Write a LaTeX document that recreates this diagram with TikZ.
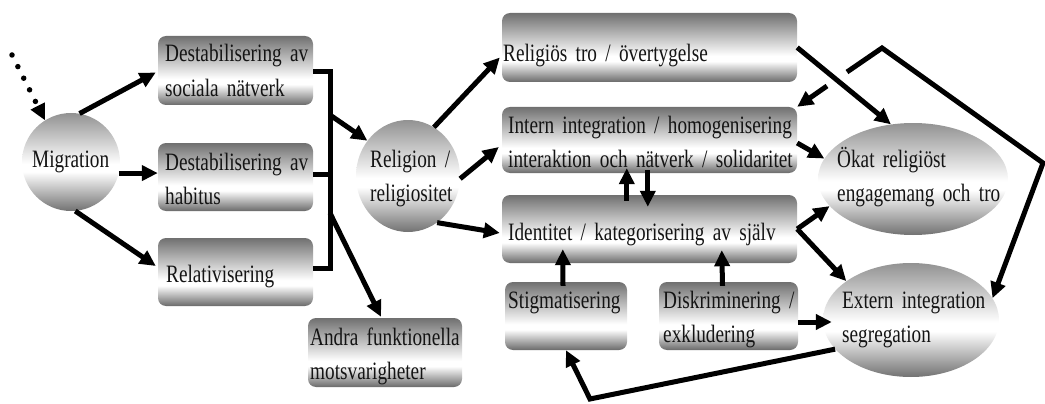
\documentclass[tikz,border=0pt]{standalone}
\usepackage{fontspec}
\setmainfont[FakeStretch=0.77]{Liberation Serif}
\usetikzlibrary{shapes.geometric,arrows.meta,calc}

\definecolor{bxtop}{RGB}{112,112,112}
\definecolor{bxbot}{RGB}{106,106,106}
\definecolor{eltop}{RGB}{146,146,146}
\definecolor{elbot}{RGB}{114,114,114}
\definecolor{ink}{RGB}{20,20,20}

% grey - white - grey bands, light band below the middle
\pgfdeclareverticalshading{boxshade}{100bp}{color(0bp)=(bxbot); color(25bp)=(bxbot);
  color(40bp)=(white); color(44bp)=(white); color(75bp)=(bxtop); color(100bp)=(bxtop)}
\pgfdeclareverticalshading{ellshade}{100bp}{color(0bp)=(elbot); color(25bp)=(elbot);
  color(45bp)=(white); color(49bp)=(white); color(75bp)=(eltop); color(100bp)=(eltop)}

\begin{document}
\begin{tikzpicture}[x=1pt,y=-1pt,
  box/.style={rectangle, rounded corners=8pt, shading=boxshade, draw=none, inner sep=0pt},
  blob/.style={ellipse, shading=ellshade, draw=none, inner sep=0pt},
  txt/.style={anchor=base west, inner sep=0pt, text width=300pt, align=left,
    text=ink, font=\fontsize{25}{34.5}\selectfont},
  conn/.style={line width=5pt, draw=black},
  arrow/.style={conn, -{Triangle[length=16pt,width=15pt]}}
]
\useasboundingbox (0,0) rectangle (1045,404);

% ---- shapes ----
\node[blob, minimum width=98pt, minimum height=98pt] (mig) at (71,162) {};
\node[box, minimum width=155pt, minimum height=69pt] (dsn) at (235.5,70.5) {};
\node[box, minimum width=155pt, minimum height=68pt] (dh) at (235.5,177) {};
\node[box, minimum width=155pt, minimum height=68pt] (rel) at (235.5,272) {};
\node[box, minimum width=154pt, minimum height=69pt] (andra) at (385,352.5) {};
\node[blob, minimum width=104pt, minimum height=112pt] (religion) at (408,176) {};
\node[box, minimum width=295pt, minimum height=69pt] (relig) at (649.5,47.5) {};
\node[box, minimum width=295pt, minimum height=66pt] (intern) at (649.5,140) {};
\node[box, minimum width=295pt, minimum height=68pt] (ident) at (649.5,229) {};
\node[box, minimum width=122pt, minimum height=68pt] (stig) at (566,316) {};
\node[box, minimum width=139pt, minimum height=68pt] (disk) at (728.5,316) {};
\node[blob, minimum width=190pt, minimum height=112pt] (okat) at (913,179) {};
\node[blob, minimum width=176pt, minimum height=114pt] (extern) at (911,320) {};

% ---- texts ----
\node[txt] (mig-t) at (32,167) {Migration};
\node[txt] (dsn-t) at (165,62) {Destabilisering av\\sociala nätverk};
\node[txt] (dh-t) at (165,170) {Destabilisering av\\habitus};
\node[txt] (rel-t) at (166,282) {Relativisering};
\node[txt] (andra-t) at (310,345) {Andra funktionella\\motsvarigheter};
\node[txt] (religion-t) at (370,167) {Religion /\\religiositet};
\node[txt] (relig-t) at (503,62) {Religiös tro / övertygelse};
\node[txt] (intern-t) at (508,133) {Intern integration / homogenisering\\interaktion och nätverk / solidaritet};
\node[txt] (ident-t) at (508,240) {Identitet / kategorisering av själv};
\node[txt] (stig-t) at (508,308) {Stigmatisering};
\node[txt] (disk-t) at (663,308) {Diskriminering /\\exkludering};
\node[txt] (okat-t) at (837,167) {Ökat religiöst\\engagemang och tro};
\node[txt] (extern-t) at (842,308) {Extern integration\\segregation};

% ---- helper points ----
\coordinate (dotstart) at (12,55);
\coordinate (brk) at (330,72);
\coordinate (brkmid) at (330,174);
\coordinate (brkbot) at (330,268);
\coordinate (brkA) at (330,115);
\coordinate (brkB) at (330,213);
\coordinate (fbA) at (827,86);
\coordinate (fbB) at (847,72);
\coordinate (fbtop) at (882,48);
\coordinate (fbright) at (1043,163);
\coordinate (lowcorner) at (590,399);

% ---- connectors ----
\draw[arrow, line width=5.5pt, line cap=round, dash pattern=on 0pt off 13pt] (dotstart) -- (mig.122);
\draw[arrow] (mig.80) -- ($(dsn.west)+(-2,2)$);
\draw[arrow] (mig.-13) -- (dh.west |- mig.-13);
\draw[arrow] (mig.-85) -- ($(rel.west)+(-2,-6)$);

\draw[conn] (dsn.east |- brk) -- (brk) -- (brkbot) -- (rel.east |- brkbot);
\draw[conn] (dh.east |- brkmid) -- (brkmid);
\draw[arrow] (brkA) -- (religion.139);
\draw[arrow] (brkB) -- ($(andra.north)+(-4,-1)$);

\draw[arrow] (religion.62) -- ($(relig.west)+(-2,10)$);
\draw[arrow] (religion.-3) -- ($(intern.west)+(-3,7)$);
\draw[arrow] (religion.-58) -- ($(ident.west)+(-2,4)$);

\draw[arrow] ($(ident.north west)+(125,6)$) -- ($(intern.south west)+(125,-5)$);
\draw[arrow] ($(intern.south west)+(146,-3)$) -- ($(ident.north west)+(146,12)$);
\draw[arrow] ($(stig.north)+(-3,4)$) -- ($(ident.south west)+(61,-14)$);
\draw[arrow] ($(disk.north)+(-6,4)$) -- ($(ident.south west)+(220,-13)$);
\draw[arrow] ($(disk.east)+(0,6)$) -- ($(extern.west)+(9,2)$);

\draw[arrow] (relig.east) -- (okat.112);
\draw[arrow] ($(intern.east)+(0,3)$) -- (okat.167);
\draw[arrow] (ident.east) -- (okat.198);
\draw[arrow] (ident.east) -- (extern.149);

\draw[arrow] (fbB) -- (fbtop) -- (fbright) -- (extern.15);
\draw[arrow] (fbA) -- (intern.north east);
\draw[arrow] (extern.201) -- (lowcorner) -- (stig.south);
\end{tikzpicture}
\end{document}
